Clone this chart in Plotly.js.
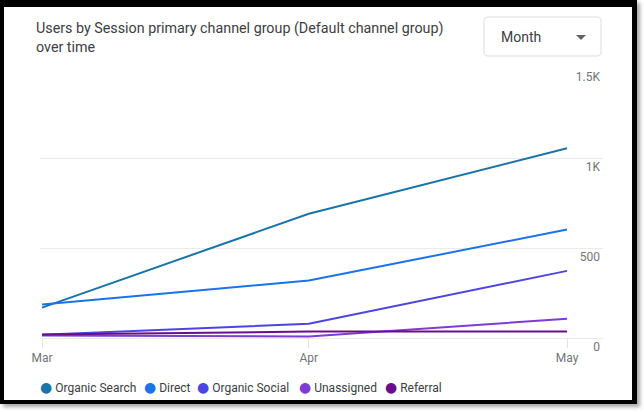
<!DOCTYPE html>
<html>
<head>
<meta charset="utf-8">
<script src="https://cdn.plot.ly/plotly-3.0.1.min.js"></script>
<style>
  html, body { margin: 0; padding: 0; background: #ffffff; }
  #wrap { position: relative; width: 644px; height: 412px; overflow: hidden; }
  #frame {
    position: absolute; left: 0; top: 0; width: 637px; height: 404px;
    box-sizing: border-box; background: #ffffff;
    border-left: 4px solid #000; border-top: 7px solid #000;
    border-right: 5px solid #000; border-bottom: 4px solid #000;
    box-shadow: 3px 3px 4px rgba(0,0,0,0.35);
  }
  #chart { position: absolute; left: 0; top: 0; width: 644px; height: 412px; }
</style>
</head>
<body>
<div id="wrap">
  <div id="frame"></div>
  <div id="chart"></div>
</div>
<script>
// ---- data ----
const months = ['2024-03-01', '2024-04-01', '2024-05-01'];
const monthLabels = ['Mar', 'Apr', 'May'];
const seriesNames = ['Organic Search', 'Direct', 'Organic Social', 'Unassigned', 'Referral'];
const organicSearch = [169, 690, 1054];
const direct = [186, 319, 603];
const organicSocial = [18, 79, 373];
const unassigned = [14, 8, 107];
const referral = [19, 36, 36];
const yTickVals = [0, 500, 1000, 1500];
const yTickText = ['0', '500', '1K', '1.5K'];

// ---- styles ----
const seriesValues = [organicSearch, direct, organicSocial, unassigned, referral];
const colors = ['#1a74a6', '#1a73e8', '#4d45e0', '#7e3bd6', '#6a0d8f'];

const W = 644, H = 412;
const M = { l: 40, r: 41, t: 68, b: 56 };
const plotW = W - M.l - M.r, plotH = H - M.t - M.b;
const px = x => (x - M.l) / plotW;
const py = y => (H - M.b - y) / plotH;

const traces = seriesValues.map((vals, i) => ({
  type: 'scatter', mode: 'lines', name: seriesNames[i],
  x: months, y: vals,
  line: { color: colors[i], width: 2 },
  showlegend: false, hoverinfo: 'x+y+name'
}));

function roundRect(x0, y0, x1, y1, r) {
  const X = v => px(v).toFixed(5), Y = v => py(v).toFixed(5);
  return `M ${X(x0 + r)} ${Y(y0)} L ${X(x1 - r)} ${Y(y0)} Q ${X(x1)} ${Y(y0)} ${X(x1)} ${Y(y0 + r)} ` +
         `L ${X(x1)} ${Y(y1 - r)} Q ${X(x1)} ${Y(y1)} ${X(x1 - r)} ${Y(y1)} ` +
         `L ${X(x0 + r)} ${Y(y1)} Q ${X(x0)} ${Y(y1)} ${X(x0)} ${Y(y1 - r)} ` +
         `L ${X(x0)} ${Y(y0 + r)} Q ${X(x0)} ${Y(y0)} ${X(x0 + r)} ${Y(y0)} Z`;
}

const shapes = [
  { type: 'rect', layer: 'between', xref: 'x', yref: 'paper',
    x0: '2024-05-01 05:00', x1: '2024-05-01 13:00', y0: 0, y1: 1,
    fillcolor: '#ffffff', line: { width: 0 } },
  { type: 'path', layer: 'above', xref: 'paper', yref: 'paper',
    path: roundRect(484, 17, 601, 56, 4),
    fillcolor: '#ffffff', line: { color: '#dadce0', width: 1 } },
  { type: 'path', layer: 'above', xref: 'paper', yref: 'paper',
    path: `M ${px(576)} ${py(35)} L ${px(586)} ${py(35)} L ${px(581)} ${py(40)} Z`,
    fillcolor: '#5f6368', line: { width: 0 } }
];

const legendX = [38, 142, 195, 297, 383];
const annotations = [
  { xref: 'paper', yref: 'paper', x: px(499), y: py(37), xanchor: 'left', yanchor: 'middle',
    text: 'Month', showarrow: false, font: { family: 'Roboto, sans-serif', size: 14, color: '#3c4043' } }
].concat(seriesNames.map((n, i) => ({
  xref: 'paper', yref: 'paper', x: px(legendX[i]), y: py(387), xanchor: 'left', yanchor: 'middle',
  text: `<span style="color:${colors[i]};font-family:'DejaVu Sans';font-size:14px">●</span>\u00a0${n}`,
  showarrow: false, font: { family: 'Roboto, sans-serif', size: 12, color: '#3c4043' }
})));

const layout = {
  width: W, height: H,
  margin: M,
  paper_bgcolor: 'rgba(0,0,0,0)', plot_bgcolor: 'rgba(0,0,0,0)',
  font: { family: 'Roboto, sans-serif', color: '#5f6368' },
  title: {
    text: 'Users by Session primary channel group (Default channel group)<br>over time',
    xref: 'container', yref: 'container', x: 36 / W, xanchor: 'left',
    y: 1 - 33 / H, yanchor: 'middle',
    font: { family: 'Roboto, sans-serif', size: 14.3, color: '#3c4043' }
  },
  showlegend: false,
  xaxis: {
    type: 'date',
    range: ['2024-02-29 18:25', '2024-05-05 04:20'],
    tickmode: 'array', tickvals: months, ticktext: monthLabels,
    anchor: 'free', position: 100 / 1600,
    showgrid: false, zeroline: false, showline: false,
    ticks: 'outside', ticklen: 9, tickcolor: '#e3e3e3', tickwidth: 1,
    tickfont: { size: 12, color: '#70757a' }, fixedrange: true
  },
  yaxis: {
    side: 'right', range: [-100, 1500],
    tickmode: 'array', tickvals: yTickVals, ticktext: yTickText,
    ticklabelposition: 'inside bottom',
    showgrid: true, gridcolor: '#ebebeb', gridwidth: 1,
    zeroline: false, showline: false, ticks: '',
    tickfont: { size: 12, color: '#70757a' }, fixedrange: true
  },
  shapes: shapes,
  annotations: annotations
};

Plotly.newPlot('chart', traces, layout, { displayModeBar: false, staticPlot: true });
</script>
</body>
</html>
